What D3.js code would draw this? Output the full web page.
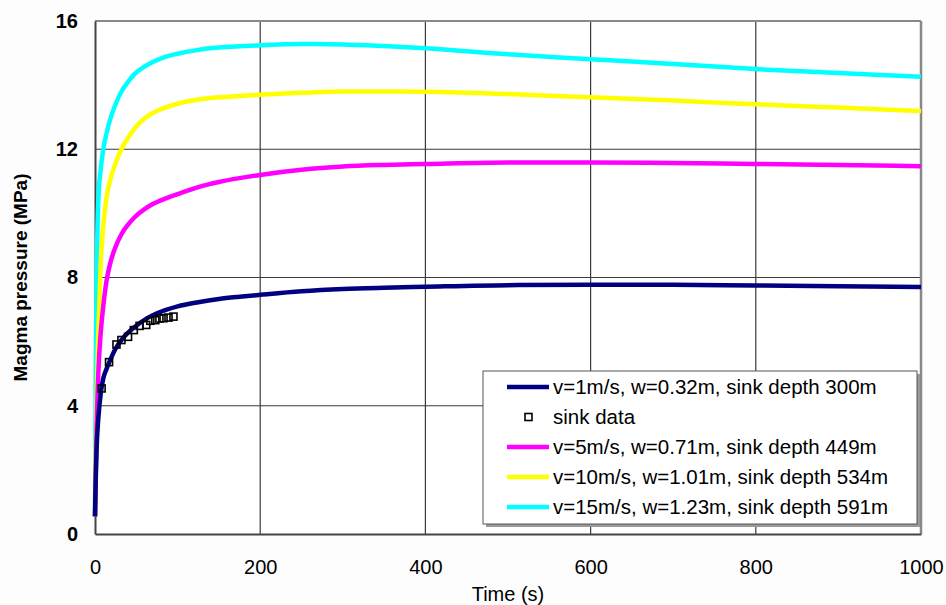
<!DOCTYPE html>
<html>
<head>
<meta charset="utf-8">
<script src="https://cdn.jsdelivr.net/npm/d3@7"></script>
<style>
  html, body { margin: 0; padding: 0; background: #fdfdfd; }
  svg { display: block; font-family: "Liberation Sans", Arial, Helvetica, sans-serif; }
</style>
</head>
<body>
<svg id="chart" width="946" height="605"></svg>
<script>
// ---- data ----
const times = [0,1,2,4,7,10,14,18,24,32,40,48,60,70,85,100,125,150,175,200,250,300,350,400,500,600,700,800,900,1000];
const v1  = [0.55,1.8,2.7,3.6,4.4,4.85,5.15,5.4,5.74,6.05,6.28,6.46,6.68,6.82,6.98,7.1,7.23,7.33,7.4,7.46,7.57,7.64,7.68,7.71,7.76,7.77,7.77,7.75,7.73,7.70];
const v5  = [0.55,2.0,3.3,5.0,6.3,7.1,7.9,8.4,8.9,9.35,9.65,9.88,10.13,10.29,10.46,10.6,10.82,10.98,11.1,11.2,11.36,11.46,11.51,11.54,11.59,11.59,11.57,11.54,11.51,11.47];
const v10 = [0.55,2.8,4.2,6.3,8.5,9.6,10.5,11.0,11.5,12.0,12.36,12.65,12.96,13.13,13.3,13.42,13.55,13.62,13.66,13.7,13.76,13.8,13.8,13.79,13.72,13.62,13.52,13.40,13.30,13.19];
const v15 = [0.55,5.4,8.0,10.4,11.4,12.0,12.5,12.9,13.35,13.8,14.1,14.35,14.58,14.72,14.88,14.98,15.1,15.17,15.21,15.24,15.28,15.27,15.22,15.15,14.96,14.81,14.66,14.50,14.38,14.26];
const sinkT = [8,17,26,32,40,47,54,62,67,73,78,83,89,95];
const sinkP = [4.54,5.36,5.91,6.05,6.15,6.36,6.49,6.52,6.65,6.67,6.72,6.73,6.75,6.78];
const seriesNames = [
  "v=1m/s, w=0.32m, sink depth 300m",
  "sink data",
  "v=5m/s, w=0.71m, sink depth 449m",
  "v=10m/s, w=1.01m, sink depth 534m",
  "v=15m/s, w=1.23m, sink depth 591m"
];
const xTicks = [0,200,400,600,800,1000];
const yTicks = [0,4,8,12,16];
const xTitle = "Time (s)";
const yTitle = "Magma pressure (MPa)";

// ---- layout ----
const svg = d3.select("#chart");
const L = 95, R = 921, T = 21, B = 534;
const x = d3.scaleLinear().domain([0,1000]).range([L,R]);
const y = d3.scaleLinear().domain([0,16]).range([B,T]);

svg.append("rect").attr("x",L).attr("y",T).attr("width",R-L).attr("height",B-T).attr("fill","#ffffff");

// gridlines
svg.append("g").selectAll("line").data(xTicks.slice(1,-1)).join("line")
  .attr("x1",d=>x(d)).attr("x2",d=>x(d)).attr("y1",T).attr("y2",B)
  .attr("stroke","#3a3a3a").attr("stroke-width",1.2);
svg.append("g").selectAll("line").data(yTicks.slice(1,-1)).join("line")
  .attr("x1",L).attr("x2",R).attr("y1",d=>y(d)).attr("y2",d=>y(d))
  .attr("stroke","#3a3a3a").attr("stroke-width",1.2);

// frame
svg.append("line").attr("x1",L).attr("x2",R).attr("y1",T).attr("y2",T).attr("stroke","#888").attr("stroke-width",2);
svg.append("line").attr("x1",R).attr("x2",R).attr("y1",T).attr("y2",B).attr("stroke","#888").attr("stroke-width",2.5);

// axes
const xAxis = d3.axisBottom(x).tickValues(xTicks).tickSize(0).tickPadding(26).tickFormat(d3.format("d"));
const gx = svg.append("g").attr("transform",`translate(0,${B})`).call(xAxis);
gx.select(".domain").attr("stroke","#444").attr("stroke-width",2);
gx.selectAll("text").attr("font-size",20).attr("fill","#000").attr("font-family","Liberation Sans, Arial, sans-serif");

const yAxis = d3.axisLeft(y).tickValues(yTicks).tickSize(0).tickPadding(17).tickFormat(d3.format("d"));
const gy = svg.append("g").attr("transform",`translate(${L},0)`).call(yAxis);
gy.select(".domain").attr("stroke","#444").attr("stroke-width",2);
gy.selectAll("text").attr("font-size",20).attr("font-weight","bold").attr("fill","#000").attr("font-family","Liberation Sans, Arial, sans-serif");

// titles
svg.append("text").attr("x",(L+R)/2).attr("y",601).attr("text-anchor","middle")
  .attr("font-size",20).attr("fill","#000").text(xTitle);
svg.append("text").attr("transform",`translate(27,${(T+B)/2}) rotate(-90)`).attr("text-anchor","middle")
  .attr("font-size",19).attr("font-weight","bold").attr("fill","#000").text(yTitle);

// lines
const line = d3.line().x((d,i)=>x(times[i])).y(d=>y(d)).curve(d3.curveMonotoneX);
const lineSeries = [
  {vals:v15, color:"#00ffff"},
  {vals:v10, color:"#ffff00"},
  {vals:v5,  color:"#ff00ff"},
  {vals:v1,  color:"#000080"}
];
svg.append("g").selectAll("path").data(lineSeries).join("path")
  .attr("d",d=>line(d.vals)).attr("fill","none")
  .attr("stroke",d=>d.color).attr("stroke-width",4.5)
  .attr("stroke-linejoin","round");

// sink data
svg.append("g").selectAll("rect").data(sinkT).join("rect")
  .attr("x",(d)=>x(d)-3.5).attr("y",(d,i)=>y(sinkP[i])-3.5)
  .attr("width",7).attr("height",7)
  .attr("fill","none").attr("stroke","#000").attr("stroke-width",1.6);

// legend
const lg = svg.append("g");
const lx = 483, ly = 371, lw = 434, lh = 153;
lg.append("rect").attr("x",lx+3).attr("y",ly+3).attr("width",lw).attr("height",lh).attr("fill","#999");
lg.append("rect").attr("x",lx).attr("y",ly).attr("width",lw).attr("height",lh)
  .attr("fill","#ffffff").attr("stroke","#555").attr("stroke-width",1);
const legendItems = [
  {name:seriesNames[0], color:"#000080", type:"line"},
  {name:seriesNames[1], color:"#000", type:"square"},
  {name:seriesNames[2], color:"#ff00ff", type:"line"},
  {name:seriesNames[3], color:"#ffff00", type:"line"},
  {name:seriesNames[4], color:"#00ffff", type:"line"}
];
const rows = lg.selectAll("g.row").data(legendItems).join("g")
  .attr("transform",(d,i)=>`translate(0,${387 + i*30})`);
rows.filter(d=>d.type==="line").append("line")
  .attr("x1",507).attr("x2",549).attr("y1",0).attr("y2",0)
  .attr("stroke",d=>d.color).attr("stroke-width",4.5);
rows.filter(d=>d.type==="square").append("rect")
  .attr("x",525).attr("y",-3.5).attr("width",7).attr("height",7)
  .attr("fill","none").attr("stroke","#000").attr("stroke-width",1.6);
rows.append("text").attr("x",553).attr("y",0).attr("dy","0.35em")
  .attr("font-size",20.5).attr("fill","#000").text(d=>d.name);
</script>
</body>
</html>
